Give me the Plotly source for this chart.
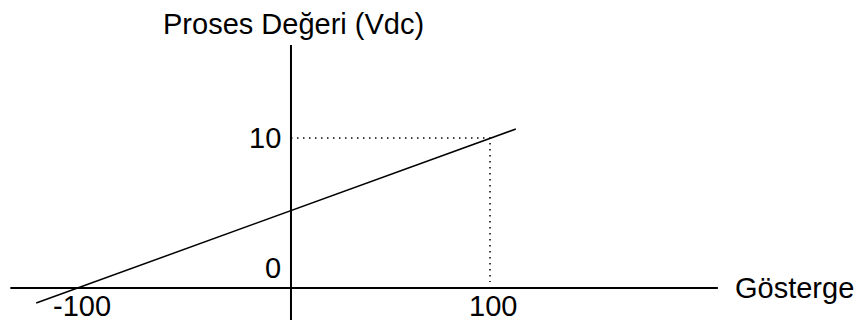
import plotly.graph_objects as go

# data
line_x = [-128, 113]
line_y = [-1.0, 10.6]
ref_x = [0, 100, 100]
ref_y = [10, 10, 0.4]
x_axis_span = [-141, 214.5]
y_axis_span = [-2.2, 16.2]
x_labels = ["-100", "100"]
x_label_pos = [-105, 101.5]
y_labels = ["10", "0"]
y_label_pos = [10, 1.35]
x_title = "Gösterge"
y_title = "Proses Değeri (Vdc)"

FONT = dict(family="Liberation Sans, Arial, sans-serif", size=29, color="black")

fig = go.Figure()

# dotted guide lines
fig.add_trace(go.Scatter(
    x=ref_x, y=ref_y, mode="lines",
    line=dict(color="black", width=1.5, dash="1.5px,4.5px"),
    hoverinfo="skip", showlegend=False
))

# axes
fig.add_trace(go.Scatter(
    x=x_axis_span, y=[0, 0], mode="lines",
    line=dict(color="black", width=2), hoverinfo="skip", showlegend=False
))
fig.add_trace(go.Scatter(
    x=[0, 0], y=y_axis_span, mode="lines",
    line=dict(color="black", width=2), hoverinfo="skip", showlegend=False
))

# transfer line
fig.add_trace(go.Scatter(
    x=line_x, y=line_y, mode="lines",
    line=dict(color="black", width=1.5), showlegend=False
))

annotations = []
for lbl, pos in zip(x_labels, x_label_pos):
    annotations.append(dict(x=pos, y=-1.2, text=lbl, showarrow=False,
                            xanchor="center", yanchor="middle", font=FONT))
for lbl, pos in zip(y_labels, y_label_pos):
    annotations.append(dict(x=-4, y=pos, text=lbl, showarrow=False,
                            xanchor="right", yanchor="middle", font=FONT))
annotations.append(dict(x=222, y=0, text=x_title, showarrow=False,
                        xanchor="left", yanchor="middle", font=FONT))
annotations.append(dict(x=1.5, y=17.6, text=y_title, showarrow=False,
                        xanchor="center", yanchor="middle", font=FONT))

fig.update_layout(
    width=858, height=320,
    margin=dict(l=0, r=0, t=0, b=0),
    paper_bgcolor="white", plot_bgcolor="white",
    xaxis=dict(range=[-146.2, 284.9], visible=False, fixedrange=True),
    yaxis=dict(range=[-2.133, 19.2], visible=False, fixedrange=True),
    annotations=annotations,
    showlegend=False
)

fig.write_html("out.html", post_script="document.body.style.margin='0';",
               config={"displayModeBar": False})
